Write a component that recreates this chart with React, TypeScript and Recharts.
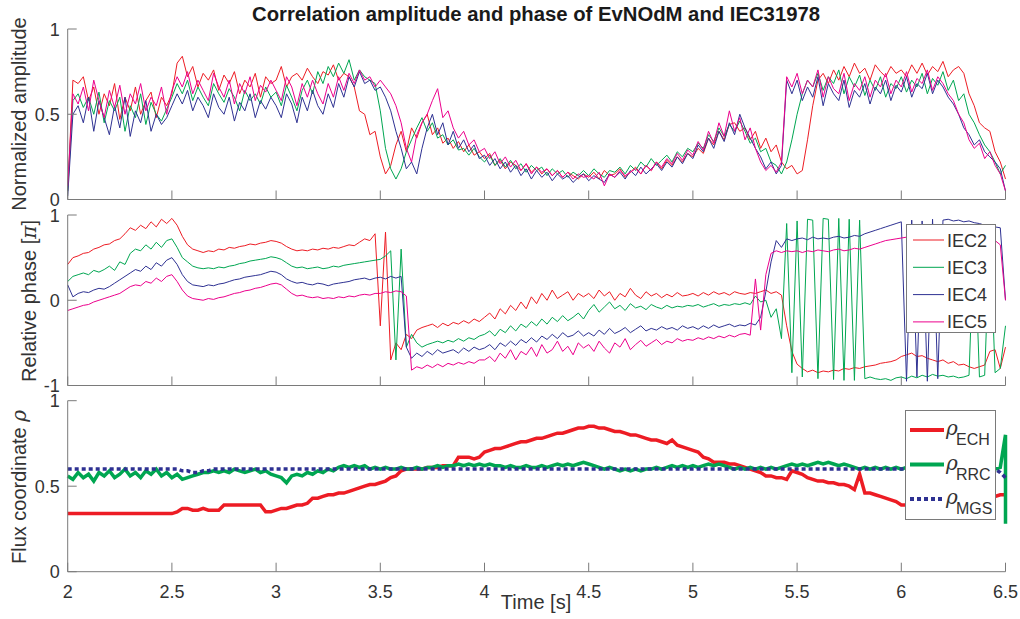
import React from "react";
import { LineChart, Line, XAxis, YAxis, Legend } from "recharts";

// sample times [s]
const time = [
  2, 2.025, 2.05, 2.075, 2.1, 2.125, 2.15, 2.175, 2.2, 2.225, 2.25, 2.275, 2.3, 2.325, 2.35, 2.375, 2.4, 2.425, 2.45, 2.475,
  2.5, 2.525, 2.55, 2.575, 2.6, 2.625, 2.65, 2.675, 2.7, 2.725, 2.75, 2.775, 2.8, 2.825, 2.85, 2.875, 2.9, 2.925, 2.95, 2.975,
  3, 3.025, 3.05, 3.075, 3.1, 3.125, 3.15, 3.175, 3.2, 3.225, 3.25, 3.275, 3.3, 3.325, 3.35, 3.375, 3.4, 3.425, 3.45, 3.475,
  3.5, 3.525, 3.55, 3.575, 3.6, 3.625, 3.65, 3.675, 3.7, 3.725, 3.75, 3.775, 3.8, 3.825, 3.85, 3.875, 3.9, 3.925, 3.95, 3.975,
  4, 4.025, 4.05, 4.075, 4.1, 4.125, 4.15, 4.175, 4.2, 4.225, 4.25, 4.275, 4.3, 4.325, 4.35, 4.375, 4.4, 4.425, 4.45, 4.475,
  4.5, 4.525, 4.55, 4.575, 4.6, 4.625, 4.65, 4.675, 4.7, 4.725, 4.75, 4.775, 4.8, 4.825, 4.85, 4.875, 4.9, 4.925, 4.95, 4.975,
  5, 5.025, 5.05, 5.075, 5.1, 5.125, 5.15, 5.175, 5.2, 5.225, 5.25, 5.275, 5.3, 5.325, 5.35, 5.375, 5.4, 5.425, 5.45, 5.475,
  5.5, 5.525, 5.55, 5.575, 5.6, 5.625, 5.65, 5.675, 5.7, 5.725, 5.75, 5.775, 5.8, 5.825, 5.85, 5.875, 5.9, 5.925, 5.95, 5.975,
  6, 6.025, 6.05, 6.075, 6.1, 6.125, 6.15, 6.175, 6.2, 6.225, 6.25, 6.275, 6.3, 6.325, 6.35, 6.375, 6.4, 6.425, 6.45, 6.475, 6.5,
];

// normalized correlation amplitude
const ampIEC2 = [
  0.05, 0.70, 0.68, 0.72, 0.58, 0.66, 0.50, 0.62, 0.55, 0.68, 0.47, 0.60, 0.52, 0.66, 0.50, 0.58, 0.63, 0.48, 0.60, 0.55,
  0.62, 0.80, 0.84, 0.72, 0.78, 0.66, 0.74, 0.70, 0.76, 0.64, 0.73, 0.68, 0.75, 0.62, 0.70, 0.66, 0.74, 0.60, 0.72, 0.68,
  0.70, 0.78, 0.66, 0.72, 0.74, 0.70, 0.77, 0.72, 0.68, 0.75, 0.73, 0.79, 0.70, 0.74, 0.72, 0.66, 0.52, 0.50, 0.38, 0.40,
  0.25, 0.15, 0.20, 0.32, 0.40, 0.28, 0.42, 0.36, 0.45, 0.50, 0.38, 0.42, 0.33, 0.36, 0.30, 0.34, 0.28, 0.32, 0.26, 0.28,
  0.24, 0.27, 0.20, 0.23, 0.18, 0.22, 0.20, 0.17, 0.21, 0.16, 0.19, 0.15, 0.18, 0.14, 0.17, 0.13, 0.16, 0.14, 0.12, 0.15,
  0.13, 0.16, 0.12, 0.17, 0.14, 0.15, 0.18, 0.13, 0.16, 0.19, 0.15, 0.20, 0.17, 0.22, 0.18, 0.23, 0.20, 0.25, 0.22, 0.27,
  0.25, 0.30, 0.27, 0.36, 0.32, 0.40, 0.35, 0.44, 0.45, 0.40, 0.42, 0.35, 0.40, 0.30, 0.36, 0.28, 0.32, 0.22, 0.18, 0.20,
  0.15, 0.17, 0.35, 0.55, 0.70, 0.74, 0.68, 0.76, 0.70, 0.78, 0.72, 0.80, 0.74, 0.77, 0.70, 0.79, 0.75, 0.72, 0.78, 0.74,
  0.76, 0.72, 0.79, 0.74, 0.80, 0.73, 0.78, 0.75, 0.81, 0.72, 0.76, 0.78, 0.74, 0.62, 0.55, 0.45, 0.42, 0.40, 0.28, 0.22, 0.12,
];
const ampIEC3 = [
  0.05, 0.58, 0.62, 0.54, 0.60, 0.50, 0.63, 0.45, 0.58, 0.52, 0.60, 0.40, 0.55, 0.48, 0.62, 0.44, 0.57, 0.50, 0.46, 0.53,
  0.60, 0.68, 0.62, 0.70, 0.58, 0.66, 0.60, 0.55, 0.68, 0.62, 0.57, 0.65, 0.60, 0.52, 0.64, 0.58, 0.62, 0.56, 0.66, 0.60,
  0.63, 0.55, 0.67, 0.60, 0.52, 0.64, 0.70, 0.62, 0.75, 0.68, 0.78, 0.72, 0.80, 0.74, 0.82, 0.70, 0.76, 0.72, 0.70, 0.68,
  0.52, 0.30, 0.18, 0.12, 0.18, 0.28, 0.35, 0.42, 0.48, 0.40, 0.45, 0.36, 0.38, 0.32, 0.35, 0.29, 0.30, 0.26, 0.30, 0.25,
  0.22, 0.26, 0.20, 0.24, 0.19, 0.23, 0.18, 0.21, 0.16, 0.20, 0.17, 0.19, 0.14, 0.18, 0.15, 0.17, 0.13, 0.16, 0.14, 0.17,
  0.14, 0.18, 0.15, 0.13, 0.17, 0.16, 0.19, 0.15, 0.20, 0.17, 0.22, 0.19, 0.24, 0.20, 0.23, 0.26, 0.22, 0.28, 0.25, 0.30,
  0.28, 0.33, 0.30, 0.38, 0.34, 0.42, 0.37, 0.44, 0.40, 0.46, 0.40, 0.33, 0.36, 0.28, 0.30, 0.22, 0.20, 0.15, 0.22, 0.35,
  0.50, 0.62, 0.70, 0.66, 0.74, 0.64, 0.72, 0.68, 0.76, 0.62, 0.72, 0.66, 0.73, 0.61, 0.70, 0.64, 0.72, 0.60, 0.68, 0.65,
  0.72, 0.63, 0.70, 0.66, 0.74, 0.62, 0.71, 0.67, 0.75, 0.64, 0.70, 0.58, 0.62, 0.50, 0.45, 0.38, 0.32, 0.28, 0.22, 0.15, 0.20,
];
const ampIEC4 = [
  0.02, 0.50, 0.55, 0.45, 0.60, 0.40, 0.58, 0.48, 0.38, 0.55, 0.42, 0.60, 0.37, 0.52, 0.45, 0.58, 0.40, 0.50, 0.44, 0.48,
  0.55, 0.62, 0.56, 0.64, 0.52, 0.60, 0.55, 0.48, 0.62, 0.54, 0.50, 0.60, 0.46, 0.57, 0.52, 0.62, 0.48, 0.58, 0.53, 0.60,
  0.55, 0.48, 0.62, 0.56, 0.45, 0.60, 0.52, 0.64, 0.55, 0.50, 0.62, 0.54, 0.68, 0.60, 0.72, 0.66, 0.75, 0.68, 0.70, 0.64,
  0.66, 0.60, 0.52, 0.40, 0.30, 0.18, 0.22, 0.15, 0.30, 0.42, 0.50, 0.38, 0.45, 0.32, 0.40, 0.30, 0.35, 0.28, 0.32, 0.24,
  0.26, 0.20, 0.24, 0.18, 0.22, 0.16, 0.20, 0.14, 0.18, 0.12, 0.17, 0.13, 0.16, 0.11, 0.15, 0.12, 0.14, 0.10, 0.13, 0.15,
  0.11, 0.14, 0.12, 0.10, 0.15, 0.13, 0.16, 0.12, 0.17, 0.14, 0.19, 0.15, 0.18, 0.21, 0.17, 0.22, 0.19, 0.25, 0.21, 0.27,
  0.24, 0.32, 0.28, 0.36, 0.30, 0.40, 0.34, 0.45, 0.38, 0.50, 0.42, 0.36, 0.30, 0.25, 0.18, 0.22, 0.15, 0.20, 0.70, 0.62,
  0.70, 0.58, 0.66, 0.60, 0.72, 0.55, 0.68, 0.62, 0.58, 0.70, 0.54, 0.64, 0.60, 0.68, 0.56, 0.66, 0.62, 0.70, 0.58, 0.67,
  0.63, 0.72, 0.60, 0.68, 0.65, 0.74, 0.62, 0.70, 0.66, 0.60, 0.56, 0.50, 0.42, 0.38, 0.32, 0.35, 0.28, 0.25, 0.22, 0.18, 0.05,
];
const ampIEC5 = [
  0.08, 0.62, 0.56, 0.66, 0.52, 0.70, 0.58, 0.48, 0.64, 0.54, 0.67, 0.50, 0.62, 0.56, 0.68, 0.52, 0.60, 0.55, 0.66, 0.50,
  0.64, 0.72, 0.66, 0.75, 0.62, 0.70, 0.64, 0.58, 0.74, 0.66, 0.60, 0.70, 0.56, 0.68, 0.62, 0.72, 0.58, 0.67, 0.63, 0.70,
  0.64, 0.58, 0.72, 0.66, 0.55, 0.68, 0.60, 0.70, 0.62, 0.56, 0.68, 0.60, 0.72, 0.64, 0.74, 0.68, 0.76, 0.70, 0.72, 0.66,
  0.70, 0.66, 0.62, 0.55, 0.45, 0.30, 0.22, 0.38, 0.45, 0.50, 0.58, 0.65, 0.48, 0.52, 0.42, 0.36, 0.40, 0.32, 0.35, 0.28,
  0.30, 0.24, 0.28, 0.21, 0.25, 0.19, 0.23, 0.17, 0.21, 0.15, 0.19, 0.16, 0.18, 0.14, 0.17, 0.13, 0.16, 0.12, 0.15, 0.13,
  0.14, 0.12, 0.16, 0.08, 0.15, 0.13, 0.17, 0.14, 0.16, 0.18, 0.15, 0.20, 0.17, 0.22, 0.19, 0.24, 0.21, 0.27, 0.23, 0.29,
  0.26, 0.34, 0.29, 0.40, 0.33, 0.45, 0.37, 0.52, 0.40, 0.48, 0.35, 0.42, 0.30, 0.22, 0.17, 0.20, 0.16, 0.22, 0.72, 0.66,
  0.74, 0.62, 0.70, 0.66, 0.76, 0.60, 0.72, 0.65, 0.62, 0.74, 0.58, 0.68, 0.64, 0.72, 0.60, 0.70, 0.66, 0.74, 0.62, 0.70,
  0.66, 0.75, 0.63, 0.71, 0.68, 0.76, 0.64, 0.72, 0.68, 0.62, 0.58, 0.50, 0.45, 0.35, 0.30, 0.33, 0.24, 0.28, 0.20, 0.15, 0.05,
];

// relative phase [pi]
const phIEC2 = [
  0.42, 0.50, 0.52, 0.55, 0.56, 0.60, 0.62, 0.65, 0.66, 0.70, 0.72, 0.78, 0.85, 0.82, 0.88, 0.84, 0.92, 0.86, 0.95, 0.90,
  0.96, 0.88, 0.75, 0.65, 0.60, 0.58, 0.56, 0.58, 0.57, 0.60, 0.59, 0.62, 0.61, 0.63, 0.64, 0.66, 0.65, 0.67, 0.68, 0.70,
  0.69, 0.67, 0.63, 0.60, 0.58, 0.59, 0.58, 0.60, 0.59, 0.61, 0.60, 0.62, 0.61, 0.63, 0.65, 0.64, 0.68, 0.72, 0.70, 0.78,
  -0.30, 0.80, -0.70, -0.50, -0.58, -0.40, -0.45, -0.35, -0.32, -0.30, -0.28, -0.32, -0.27, -0.30, -0.26, -0.28, -0.24, -0.27, -0.22, -0.25,
  -0.20, -0.15, -0.22, -0.10, -0.16, -0.06, -0.12, -0.02, -0.10, 0.04, -0.04, 0.08, 0.00, 0.12, 0.02, 0.06, 0.10, 0.00, 0.08, 0.04,
  0.08, 0.02, 0.12, 0.05, 0.10, 0.00, 0.08, 0.04, 0.14, 0.06, 0.02, 0.10, 0.05, 0.08, 0.03, 0.07, 0.04, 0.09, 0.05, 0.06,
  0.08, 0.05, 0.09, 0.06, 0.10, 0.07, 0.09, 0.06, 0.10, 0.08, 0.07, 0.09, 0.08, 0.10, 0.12, 0.08, 0.10, 0.06, -0.30, -0.60,
  -0.75, -0.80, -0.84, -0.82, -0.85, -0.83, -0.84, -0.82, -0.83, -0.80, -0.81, -0.79, -0.80, -0.78, -0.77, -0.76, -0.74, -0.73, -0.72, -0.70,
  -0.66, -0.64, -0.62, -0.66, -0.65, -0.68, -0.70, -0.72, -0.70, -0.74, -0.72, -0.76, -0.75, -0.78, -0.80, -0.78, -0.76, -0.60, -0.58, -0.80, -0.55,
];
const phIEC3 = [
  0.22, 0.28, 0.30, 0.32, 0.30, 0.35, 0.33, 0.36, 0.40, 0.35, 0.45, 0.42, 0.55, 0.60, 0.58, 0.65, 0.60, 0.68, 0.62, 0.70,
  0.72, 0.62, 0.50, 0.45, 0.40, 0.38, 0.37, 0.38, 0.37, 0.39, 0.38, 0.40, 0.41, 0.43, 0.44, 0.46, 0.47, 0.48, 0.49, 0.51,
  0.50, 0.48, 0.44, 0.40, 0.38, 0.39, 0.37, 0.38, 0.39, 0.37, 0.38, 0.40, 0.39, 0.41, 0.42, 0.43, 0.44, 0.45, 0.46, 0.47,
  0.48, 0.52, 0.58, -0.70, 0.60, -0.55, -0.40, -0.50, -0.55, -0.52, -0.50, -0.48, -0.50, -0.47, -0.49, -0.45, -0.48, -0.44, -0.46, -0.42,
  -0.40, -0.36, -0.42, -0.34, -0.38, -0.30, -0.36, -0.28, -0.32, -0.25, -0.30, -0.22, -0.28, -0.20, -0.25, -0.18, -0.24, -0.20, -0.15, -0.22,
  -0.12, -0.05, -0.14, -0.08, -0.02, -0.10, -0.06, -0.12, -0.04, -0.09, -0.07, -0.11, -0.05, -0.08, -0.10, -0.06, -0.09, -0.07, -0.08, -0.06,
  -0.07, -0.05, -0.08, -0.06, -0.04, -0.07, -0.05, -0.06, -0.04, -0.05, -0.03, -0.05, 0.05, -0.02, 0.00, -0.20, -0.10, -0.45, 0.90, -0.85,
  0.93, -0.90, 0.95, 0.94, -0.92, 0.96, 0.95, -0.93, 0.96, -0.94, 0.95, -0.94, 0.94, -0.92, -0.90, -0.92, -0.93, -0.92, -0.94, -0.91,
  -0.90, -0.92, -0.89, -0.91, -0.88, -0.90, -0.87, -0.89, -0.88, -0.90, -0.89, -0.91, -0.90, -0.88, 0.85, -0.90, -0.88, 0.80, -0.85, -0.80, -0.30,
];
const phIEC4 = [
  0.18, 0.04, 0.08, 0.10, 0.09, 0.12, 0.14, 0.13, 0.16, 0.20, 0.24, 0.28, 0.32, 0.36, 0.34, 0.40, 0.36, 0.44, 0.40, 0.47,
  0.50, 0.42, 0.30, 0.22, 0.18, 0.17, 0.16, 0.18, 0.17, 0.19, 0.20, 0.22, 0.24, 0.25, 0.27, 0.28, 0.29, 0.30, 0.32, 0.34,
  0.33, 0.30, 0.25, 0.22, 0.20, 0.21, 0.19, 0.18, 0.20, 0.19, 0.17, 0.19, 0.20, 0.21, 0.22, 0.24, 0.25, 0.26, 0.24, 0.26,
  0.27, 0.25, 0.28, 0.26, 0.28, -0.55, -0.68, -0.62, -0.66, -0.60, -0.64, -0.58, -0.62, -0.60, -0.58, -0.62, -0.56, -0.60, -0.55, -0.58,
  -0.56, -0.52, -0.58, -0.50, -0.54, -0.48, -0.53, -0.46, -0.50, -0.44, -0.49, -0.42, -0.46, -0.40, -0.45, -0.38, -0.43, -0.41, -0.36, -0.42,
  -0.38, -0.42, -0.35, -0.40, -0.33, -0.39, -0.36, -0.32, -0.38, -0.34, -0.30, -0.36, -0.33, -0.35, -0.31, -0.34, -0.32, -0.35, -0.30, -0.33,
  -0.31, -0.34, -0.30, -0.33, -0.29, -0.32, -0.30, -0.28, -0.31, -0.29, -0.30, -0.27, -0.29, -0.20, 0.10, 0.45, 0.70, 0.62, 0.72, 0.70,
  0.72, 0.73, 0.71, 0.74, 0.72, 0.73, 0.72, 0.74, 0.75, 0.73, 0.74, 0.76, 0.75, 0.78, 0.80, 0.82, 0.84, 0.86, 0.88, 0.90,
  0.92, -0.95, 0.94, -0.90, 0.93, -0.95, 0.95, -0.92, 0.94, 0.95, 0.93, 0.94, 0.92, 0.93, 0.91, 0.90, 0.88, 0.87, 0.86, 0.85, 0.00,
];
const phIEC5 = [
  -0.12, -0.10, -0.08, -0.06, -0.05, -0.02, 0.00, 0.02, 0.04, 0.06, 0.08, 0.12, 0.16, 0.18, 0.17, 0.22, 0.20, 0.26, 0.22, 0.28,
  0.30, 0.22, 0.12, 0.05, 0.02, 0.01, 0.00, 0.02, 0.01, 0.03, 0.04, 0.06, 0.08, 0.09, 0.11, 0.12, 0.14, 0.15, 0.17, 0.19,
  0.20, 0.18, 0.13, 0.08, 0.05, 0.06, 0.04, 0.03, 0.04, 0.02, 0.03, 0.02, 0.04, 0.03, 0.05, 0.04, 0.06, 0.07, 0.06, 0.08,
  0.08, 0.10, 0.09, 0.11, 0.10, 0.05, -0.82, -0.78, -0.80, -0.76, -0.79, -0.75, -0.78, -0.74, -0.76, -0.73, -0.75, -0.72, -0.74, -0.70,
  -0.70, -0.66, -0.72, -0.62, -0.68, -0.58, -0.70, -0.60, -0.64, -0.55, -0.66, -0.52, -0.62, -0.58, -0.48, -0.60, -0.54, -0.64, -0.50, -0.56,
  -0.52, -0.60, -0.48, -0.56, -0.62, -0.50, -0.55, -0.45, -0.58, -0.52, -0.47, -0.54, -0.50, -0.46, -0.52, -0.48, -0.50, -0.45, -0.48, -0.46,
  -0.47, -0.44, -0.46, -0.43, -0.45, -0.42, -0.44, -0.41, -0.43, -0.40, -0.39, -0.41, 0.25, -0.35, 0.30, 0.55, 0.58, 0.56, 0.58, 0.57,
  0.58, 0.56, 0.58, 0.57, 0.59, 0.58, 0.57, 0.59, 0.60, 0.58, 0.59, 0.61, 0.60, 0.62, 0.64, 0.66, 0.68, 0.70, 0.71, 0.72,
  0.73, 0.74, 0.75, 0.76, 0.77, 0.78, 0.77, 0.79, 0.78, 0.80, 0.79, 0.78, 0.77, 0.76, 0.75, 0.74, 0.73, 0.72, 0.70, 0.65, 0.00,
];

// flux coordinate rho (RRC has one extra sample: the vertical stroke at 6.5 s)
const fluxTime = [...time, 6.5];
const fluxECH = [
  0.34, 0.34, 0.34, 0.34, 0.34, 0.34, 0.34, 0.34, 0.34, 0.34, 0.34, 0.34, 0.34, 0.34, 0.34, 0.34, 0.34, 0.34, 0.34, 0.34,
  0.34, 0.35, 0.37, 0.37, 0.36, 0.36, 0.37, 0.36, 0.36, 0.36, 0.39, 0.39, 0.39, 0.39, 0.39, 0.39, 0.39, 0.39, 0.35, 0.35,
  0.36, 0.37, 0.37, 0.38, 0.39, 0.39, 0.40, 0.43, 0.43, 0.44, 0.45, 0.45, 0.46, 0.46, 0.47, 0.48, 0.49, 0.50, 0.51, 0.51,
  0.52, 0.53, 0.55, 0.56, 0.59, 0.60, 0.60, 0.60, 0.60, 0.61, 0.61, 0.61, 0.62, 0.62, 0.62, 0.67, 0.67, 0.67, 0.66, 0.67,
  0.70, 0.71, 0.72, 0.72, 0.73, 0.74, 0.75, 0.76, 0.76, 0.77, 0.78, 0.78, 0.79, 0.80, 0.81, 0.81, 0.82, 0.83, 0.84, 0.84,
  0.85, 0.85, 0.84, 0.84, 0.83, 0.82, 0.82, 0.81, 0.80, 0.80, 0.79, 0.78, 0.77, 0.77, 0.76, 0.75, 0.77, 0.74, 0.73, 0.72,
  0.71, 0.70, 0.67, 0.66, 0.64, 0.64, 0.64, 0.63, 0.63, 0.62, 0.61, 0.60, 0.59, 0.58, 0.56, 0.56, 0.55, 0.55, 0.54, 0.59,
  0.58, 0.57, 0.55, 0.54, 0.53, 0.53, 0.52, 0.52, 0.51, 0.51, 0.50, 0.48, 0.57, 0.46, 0.46, 0.45, 0.44, 0.43, 0.42, 0.41,
  0.39, 0.39, 0.38, 0.38, 0.37, 0.37, 0.37, 0.38, 0.38, 0.38, 0.39, 0.39, 0.40, 0.40, 0.41, 0.42, 0.43, 0.44, 0.44, 0.45, 0.45,
];
const fluxRRC = [
  0.56, 0.54, 0.58, 0.55, 0.57, 0.53, 0.58, 0.56, 0.59, 0.55, 0.57, 0.60, 0.56, 0.58, 0.55, 0.59, 0.57, 0.60, 0.56, 0.58,
  0.55, 0.57, 0.54, 0.55, 0.56, 0.57, 0.58, 0.58, 0.59, 0.58, 0.59, 0.58, 0.60, 0.59, 0.58, 0.59, 0.60, 0.58, 0.59, 0.57,
  0.56, 0.55, 0.52, 0.56, 0.57, 0.56, 0.58, 0.57, 0.59, 0.58, 0.60, 0.59, 0.61, 0.62, 0.61, 0.62, 0.61, 0.62, 0.60, 0.61,
  0.60, 0.61, 0.60, 0.60, 0.61, 0.60, 0.60, 0.61, 0.60, 0.61, 0.61, 0.62, 0.61, 0.62, 0.62, 0.63, 0.62, 0.63, 0.62, 0.63,
  0.62, 0.63, 0.62, 0.62, 0.61, 0.62, 0.61, 0.61, 0.62, 0.61, 0.61, 0.62, 0.61, 0.62, 0.63, 0.62, 0.63, 0.62, 0.63, 0.64,
  0.63, 0.62, 0.61, 0.60, 0.61, 0.60, 0.59, 0.60, 0.59, 0.60, 0.59, 0.60, 0.60, 0.61, 0.60, 0.61, 0.62, 0.61, 0.62, 0.61,
  0.62, 0.61, 0.62, 0.63, 0.62, 0.63, 0.62, 0.61, 0.60, 0.61, 0.60, 0.61, 0.60, 0.61, 0.60, 0.61, 0.60, 0.61, 0.62, 0.63,
  0.62, 0.63, 0.62, 0.63, 0.64, 0.63, 0.64, 0.63, 0.62, 0.63, 0.62, 0.61, 0.60, 0.61, 0.60, 0.61, 0.60, 0.61, 0.60, 0.61,
  0.60, 0.61, 0.60, 0.61, 0.60, 0.61, 0.60, 0.61, 0.60, 0.61, 0.60, 0.61, 0.60, 0.61, 0.60, 0.61, 0.60, 0.61, 0.60, 0.61, 0.80, 0.28,
];
const fluxMGS = [
  0.60, 0.60, 0.60, 0.60, 0.60, 0.60, 0.60, 0.60, 0.60, 0.60, 0.60, 0.60, 0.60, 0.60, 0.60, 0.60, 0.60, 0.60, 0.60, 0.60,
  0.60, 0.60, 0.59, 0.59, 0.58, 0.58, 0.59, 0.59, 0.60, 0.60, 0.60, 0.60, 0.60, 0.60, 0.60, 0.60, 0.60, 0.60, 0.60, 0.60,
  0.60, 0.60, 0.60, 0.60, 0.60, 0.60, 0.60, 0.60, 0.60, 0.60, 0.60, 0.60, 0.60, 0.60, 0.60, 0.60, 0.60, 0.60, 0.60, 0.60,
  0.60, 0.60, 0.60, 0.60, 0.60, 0.60, 0.60, 0.60, 0.60, 0.60, 0.60, 0.60, 0.60, 0.60, 0.60, 0.60, 0.60, 0.60, 0.60, 0.60,
  0.60, 0.60, 0.60, 0.60, 0.60, 0.60, 0.60, 0.60, 0.60, 0.60, 0.60, 0.60, 0.60, 0.60, 0.60, 0.60, 0.60, 0.60, 0.60, 0.60,
  0.60, 0.60, 0.60, 0.60, 0.60, 0.60, 0.60, 0.60, 0.60, 0.60, 0.60, 0.60, 0.60, 0.60, 0.60, 0.60, 0.60, 0.60, 0.60, 0.60,
  0.60, 0.60, 0.60, 0.60, 0.60, 0.60, 0.60, 0.60, 0.60, 0.60, 0.60, 0.60, 0.60, 0.60, 0.60, 0.60, 0.60, 0.60, 0.60, 0.60,
  0.60, 0.60, 0.60, 0.60, 0.60, 0.60, 0.60, 0.60, 0.60, 0.60, 0.60, 0.60, 0.60, 0.60, 0.60, 0.60, 0.60, 0.60, 0.60, 0.60,
  0.60, 0.60, 0.60, 0.60, 0.60, 0.60, 0.60, 0.60, 0.60, 0.60, 0.60, 0.60, 0.60, 0.60, 0.60, 0.60, 0.60, 0.60, 0.60, 0.58, 0.55,
];

const timeTicks = [2, 2.5, 3, 3.5, 4, 4.5, 5, 5.5, 6, 6.5];
const ampTicks = [0, 0.5, 1];
const phaseTicks = [-1, 0, 1];
const fluxTicks = [0, 0.5, 1];
const phaseNames = ["IEC2", "IEC3", "IEC4", "IEC5"];
const fluxNames = ["ECH", "RRC", "MGS"];

const FONT = '"Liberation Sans", Arial, Helvetica, sans-serif';
const MATH = '"DejaVu Serif", "Liberation Serif", serif';
const AXIS = "#7a7a7a";
const INK = "#333333";
const RED = "#ED1C24";
const GREEN = "#00A651";
const NAVY = "#2E3192";
const MAGENTA = "#EC008C";
const IEC_COLORS = [RED, GREEN, NAVY, MAGENTA];
const TICK_LEN = 9;
const W = 1020;
const PLOT_LEFT = 67.7;
const PLOT_RIGHT = 14.5;

const ampRows = time.map((t, i) => ({ t, a: ampIEC2[i], b: ampIEC3[i], c: ampIEC4[i], d: ampIEC5[i] }));
const phaseRows = time.map((t, i) => ({ t, a: phIEC2[i], b: phIEC3[i], c: phIEC4[i], d: phIEC5[i] }));
const fluxRows = fluxTime.map((t, i) => ({ t, ech: fluxECH[i], rrc: fluxRRC[i], mgs: fluxMGS[i] }));

// MATLAB style ticks: pointing into the box
function XTick(props: any) {
  const { x, y, payload, showLabel, dir } = props;
  return (
    <g>
      <line x1={x} x2={x} y1={y} y2={y + dir * TICK_LEN} stroke={AXIS} />
      {showLabel && (
        <text x={x} y={y + 26} textAnchor="middle" fontSize={18} fontFamily={FONT} fill={INK}>
          {payload.value}
        </text>
      )}
    </g>
  );
}

function YTick(props: any) {
  const { x, y, payload, showLabel, dir } = props;
  return (
    <g>
      <line x1={x} x2={x + dir * TICK_LEN} y1={y} y2={y} stroke={AXIS} />
      {showLabel && (
        <text x={x - 8} y={y + 6.5} textAnchor="end" fontSize={18} fontFamily={FONT} fill={INK}>
          {payload.value}
        </text>
      )}
    </g>
  );
}

function PhaseLegend() {
  return (
    <svg width={90} height={109} style={{ display: "block" }}>
      <rect x={0.5} y={0.5} width={89} height={108} fill="#fff" stroke={AXIS} />
      {phaseNames.map((n, i) => (
        <g key={n}>
          <line x1={7} x2={38} y1={16 + i * 27.3} y2={16 + i * 27.3} stroke={IEC_COLORS[i]} strokeWidth={1} />
          <text x={41} y={22.5 + i * 27.3} fontSize={18} fontFamily={FONT} fill={INK}>{n}</text>
        </g>
      ))}
    </svg>
  );
}

function FluxLegend() {
  const colors = [RED, GREEN, NAVY];
  return (
    <svg width={91} height={110} style={{ display: "block" }}>
      <rect x={0.5} y={0.5} width={90} height={109} fill="#fff" stroke={AXIS} />
      {fluxNames.map((n, i) => {
        const cy = 20 + i * 34.5;
        return (
          <g key={n}>
            <line x1={5} x2={39} y1={cy} y2={cy} stroke={colors[i]} strokeWidth={4} strokeDasharray={i === 2 ? "4 3" : undefined} />
            <text x={41} y={cy + 5} fontSize={20} fontFamily={MATH} fontStyle="italic" fill={INK}>ρ</text>
            <text x={51} y={cy + 15} fontSize={16} fontFamily={FONT} fill={INK}>{n}</text>
          </g>
        );
      })}
    </svg>
  );
}

type PanelProps = {
  top: number;
  height: number;
  plotTop: number;
  plotHeight: number;
  data: any[];
  domain: [number, number];
  yTicks: number[];
  showTime?: boolean;
  children: React.ReactNode;
};

function Panel({ top, height, plotTop, plotHeight, data, domain, yTicks, showTime, children }: PanelProps) {
  const xAxisHeight = height - plotTop - plotHeight;
  return (
    <div style={{ position: "absolute", left: 0, top }}>
      <LineChart width={W} height={height} data={data} margin={{ top: plotTop, right: PLOT_RIGHT, bottom: 0, left: 0 }}>
        <XAxis dataKey="t" type="number" domain={[2, 6.5]} ticks={timeTicks} interval={0} height={xAxisHeight}
          stroke={AXIS} tickLine={false} tickSize={0} tickMargin={0}
          tick={(p: any) => <XTick {...p} dir={-1} showLabel={showTime} />} />
        <XAxis xAxisId="top" orientation="top" dataKey="t" type="number" domain={[2, 6.5]} ticks={timeTicks} interval={0} height={0}
          stroke={AXIS} tickLine={false} tickSize={0} tickMargin={0}
          tick={(p: any) => <XTick {...p} dir={1} showLabel={false} />} />
        <YAxis type="number" domain={domain} ticks={yTicks} interval={0} width={PLOT_LEFT}
          stroke={AXIS} tickLine={false} tickSize={0} tickMargin={0}
          tick={(p: any) => <YTick {...p} dir={1} showLabel />} />
        <YAxis yAxisId="right" orientation="right" type="number" domain={domain} ticks={yTicks} interval={0} width={0}
          stroke={AXIS} tickLine={false} tickSize={0} tickMargin={0}
          tick={(p: any) => <YTick {...p} dir={-1} showLabel={false} />} />
        {children}
      </LineChart>
    </div>
  );
}

export default function App() {
  const thin = { type: "linear" as const, dot: false, activeDot: false, strokeWidth: 1, isAnimationActive: false };
  const thick = { type: "linear" as const, dot: false, activeDot: false, strokeWidth: 3.5, isAnimationActive: false };
  return (
    <div style={{ position: "absolute", left: 0, top: 0, width: W, height: 619, background: "#fff", fontFamily: FONT, overflow: "hidden" }}>
      <style>{".recharts-surface { overflow: visible; }"}</style>
      <svg width={W} height={619} style={{ position: "absolute", left: 0, top: 0 }}>
        <text x={536} y={21} textAnchor="middle" fontSize={20.3} fontWeight="bold" fontFamily={FONT} fill="#1a1a1a">
          Correlation amplitude and phase of EvNOdM and IEC31978
        </text>
        <text x={536} y={609} textAnchor="middle" fontSize={20} fontFamily={FONT} fill={INK}>Time [s]</text>
        <text transform="translate(26,114) rotate(-90)" textAnchor="middle" fontSize={20} fontFamily={FONT} fill={INK}>
          Normalized amplitude
        </text>
        <text transform="translate(36,301) rotate(-90)" textAnchor="middle" fontSize={20} fontFamily={FONT} fill={INK}>
          Relative phase [<tspan fontFamily={MATH} fontStyle="italic">π</tspan>]
        </text>
        <text transform="translate(26,487) rotate(-90)" textAnchor="middle" fontSize={20} fontFamily={FONT} fill={INK}>
          Flux coordinate <tspan fontFamily={MATH} fontStyle="italic">ρ</tspan>
        </text>
      </svg>

      <Panel top={0} height={205} plotTop={29} plotHeight={170.5} data={ampRows} domain={[0, 1]} yTicks={ampTicks}>
        <Line dataKey="a" stroke={RED} {...thin} />
        <Line dataKey="b" stroke={GREEN} {...thin} />
        <Line dataKey="c" stroke={NAVY} {...thin} />
        <Line dataKey="d" stroke={MAGENTA} {...thin} />
      </Panel>

      <Panel top={205} height={185} plotTop={10} plotHeight={170.5} data={phaseRows} domain={[-1, 1]} yTicks={phaseTicks}>
        <Line dataKey="a" stroke={RED} {...thin} />
        <Line dataKey="b" stroke={GREEN} {...thin} />
        <Line dataKey="c" stroke={NAVY} {...thin} />
        <Line dataKey="d" stroke={MAGENTA} {...thin} />
        <Legend layout="vertical" align="center" verticalAlign="middle" content={() => <PhaseLegend />}
          wrapperStyle={{ left: 906, top: 19, width: 90, height: 109 }} />
      </Panel>

      <Panel top={390} height={229} plotTop={10.7} plotHeight={171} data={fluxRows} domain={[0, 1]} yTicks={fluxTicks} showTime>
        <Line dataKey="ech" stroke={RED} {...thick} />
        <Line dataKey="rrc" stroke={GREEN} {...thick} />
        <Line dataKey="mgs" stroke={NAVY} {...thick} strokeDasharray="4 3" />
        <Legend layout="vertical" align="center" verticalAlign="middle" content={() => <FluxLegend />}
          wrapperStyle={{ left: 905, top: 20, width: 91, height: 110 }} />
      </Panel>
    </div>
  );
}
